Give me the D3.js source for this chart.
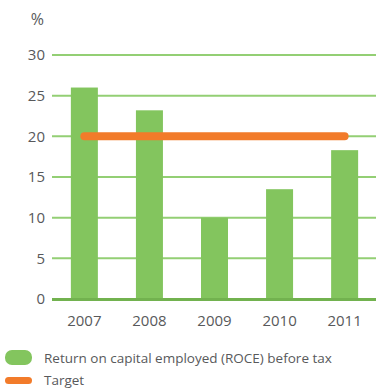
<!DOCTYPE html>
<html>
<head>
<meta charset="utf-8">
<script src="https://cdn.jsdelivr.net/npm/d3@7"></script>
<style>
body { margin: 0; background: #fff; }
text { font-family: "Open Sans", sans-serif; fill: #58595b; }
</style>
</head>
<body>
<div id="chart-area"></div>
<script>
var years = ["2007", "2008", "2009", "2010", "2011"];
var roce = [26.0, 23.2, 10.0, 13.5, 18.3];
var target = [20, 20, 20, 20, 20];
var yTicks = [0, 5, 10, 15, 20, 25, 30];
var legendLabels = ["Return on capital employed (ROCE) before tax", "Target"];

var width = 376, height = 390;
var margin = {top: 55, right: 0, bottom: 91, left: 52};
var w = width - margin.left - margin.right;
var h = height - margin.top - margin.bottom;

var svg = d3.select("#chart-area").append("svg")
	.attr("width", width)
	.attr("height", height);

var g = svg.append("g")
	.attr("transform", "translate(" + margin.left + ", " + margin.top + ")");

var x = d3.scaleBand()
	.domain(years)
	.range([0, 325])
	.paddingInner(0.585)
	.paddingOuter(0.29);

var y = d3.scaleLinear()
	.domain([0, 30])
	.range([h, 0]);

// grid lines
g.selectAll("line.grid")
	.data(yTicks.filter(function(d) { return d > 0; }))
	.enter().append("line")
		.attr("class", "grid")
		.attr("x1", 0)
		.attr("x2", w)
		.attr("y1", function(d) { return y(d); })
		.attr("y2", function(d) { return y(d); })
		.attr("stroke", "#93cf74")
		.attr("stroke-width", 2);

// y labels
g.selectAll("text.ytick")
	.data(yTicks)
	.enter().append("text")
		.attr("class", "ytick")
		.attr("x", -7)
		.attr("y", function(d) { return y(d); })
		.attr("dy", "0.36em")
		.attr("text-anchor", "end")
		.attr("font-size", "15px")
		.text(function(d) { return d; });

g.append("text")
	.attr("x", -8)
	.attr("y", -30)
	.attr("text-anchor", "end")
	.attr("font-size", "16px")
	.text("%");

// bars
g.selectAll("rect.bar")
	.data(roce)
	.enter().append("rect")
		.attr("class", "bar")
		.attr("x", function(d, i) { return x(years[i]); })
		.attr("y", function(d) { return y(d); })
		.attr("width", x.bandwidth())
		.attr("height", function(d) { return h - y(d); })
		.attr("fill", "#83c55e");

// baseline
g.append("line")
	.attr("x1", 0)
	.attr("x2", w)
	.attr("y1", y(0) + 0.5)
	.attr("y2", y(0) + 0.5)
	.attr("stroke", "#72b24f")
	.attr("stroke-width", 3);

// target line
var line = d3.line()
	.x(function(d, i) { return x(years[i]) + x.bandwidth() / 2; })
	.y(function(d) { return y(d); });

g.append("path")
	.datum(target)
	.attr("d", line)
	.attr("fill", "none")
	.attr("stroke", "#f27b2a")
	.attr("stroke-width", 8)
	.attr("stroke-linecap", "round");

// x labels
g.selectAll("text.xtick")
	.data(years)
	.enter().append("text")
		.attr("class", "xtick")
		.attr("x", function(d) { return x(d) + x.bandwidth() / 2; })
		.attr("y", h + 27)
		.attr("text-anchor", "middle")
		.attr("font-size", "15px")
		.text(function(d) { return d; });

// legend
var legend = svg.append("g");
legend.append("rect")
	.attr("x", 5).attr("y", 350)
	.attr("width", 27).attr("height", 15)
	.attr("rx", 7).attr("ry", 7)
	.attr("fill", "#83c55e");
legend.append("rect")
	.attr("x", 5).attr("y", 377)
	.attr("width", 27).attr("height", 7)
	.attr("rx", 3.5).attr("ry", 3.5)
	.attr("fill", "#f27b2a");
legend.selectAll("text")
	.data(legendLabels)
	.enter().append("text")
		.attr("x", 44)
		.attr("y", function(d, i) { return 363 + i * 22; })
		.attr("font-size", "13.5px")
		.text(function(d) { return d; });
</script>
</body>
</html>
